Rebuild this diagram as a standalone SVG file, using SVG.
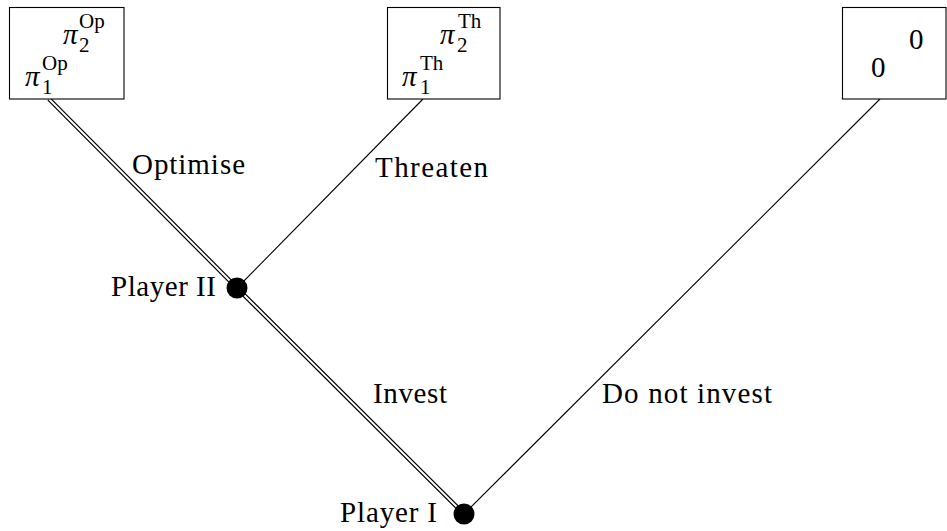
<svg xmlns="http://www.w3.org/2000/svg" width="947" height="531" viewBox="0 0 947 531" font-family="'Liberation Serif','DejaVu Serif',serif">
<style>
text,tspan{font-family:"Liberation Serif","DejaVu Serif","Times New Roman",serif;fill:#000}
.lbl{font-family:"Liberation Serif","DejaVu Serif",serif;font-size:29px}
.pi{font-family:"Liberation Serif","DejaVu Serif",serif;font-size:29px;font-style:italic}
.sc{font-family:"Liberation Serif","DejaVu Serif",serif;font-size:21px;font-style:normal}
.box{fill:#fff;stroke:#000;stroke-width:1.1}
.edge{stroke:#000;stroke-width:1.1;fill:none}
.dblo{stroke:#000;stroke-width:4.4;fill:none}
.dbli{stroke:#fff;stroke-width:2;fill:none}
.dot{fill:#000}
</style>
<rect width="947" height="531" fill="#fff"/>
<g id="connectors">
  <line class="edge" x1="237" y1="288" x2="423" y2="99"/>
  <line class="edge" x1="464" y1="514" x2="880" y2="99"/>
  <path class="dblo" d="M464 514 L237 288 L49 99"/>
  <path class="dbli" d="M464 514 L237 288 L49 99"/>
</g>
<g id="payoff-optimise">
  <rect class="box" x="9.5" y="7.5" width="114.5" height="91.5"/>
  <text x="63" y="44"><tspan class="pi">π</tspan></text>
  <text x="79" y="28"><tspan class="sc">Op</tspan></text>
  <text x="79" y="52"><tspan class="sc">2</tspan></text>
  <text x="25" y="86"><tspan class="pi">π</tspan></text>
  <text x="42" y="70"><tspan class="sc">Op</tspan></text>
  <text x="42" y="94"><tspan class="sc">1</tspan></text>
</g>
<g id="payoff-threaten">
  <rect class="box" x="387.5" y="7.5" width="112.5" height="91.5"/>
  <text x="440" y="44"><tspan class="pi">π</tspan></text>
  <text x="458" y="28"><tspan class="sc">Th</tspan></text>
  <text x="457" y="52"><tspan class="sc">2</tspan></text>
  <text x="402" y="86"><tspan class="pi">π</tspan></text>
  <text x="420" y="70"><tspan class="sc">Th</tspan></text>
  <text x="420" y="94"><tspan class="sc">1</tspan></text>
</g>
<g id="payoff-noinvest">
  <rect class="box" x="842.5" y="7.5" width="103.5" height="91.5"/>
  <text x="909" y="49"><tspan class="lbl">0</tspan></text>
  <text x="871" y="77"><tspan class="lbl">0</tspan></text>
</g>
<g id="player2">
  <circle class="dot" cx="237" cy="288" r="10.5"/>
  <text x="111" y="296"><tspan class="lbl" textLength="105">Player II</tspan></text>
</g>
<g id="player1">
  <circle class="dot" cx="464" cy="514" r="10.5"/>
  <text x="340" y="522"><tspan class="lbl" textLength="97">Player I</tspan></text>
</g>
<g id="edge-labels">
  <text x="132" y="174"><tspan class="lbl" textLength="113">Optimise</tspan></text>
  <text x="375" y="177"><tspan class="lbl" textLength="113">Threaten</tspan></text>
  <text x="373" y="403"><tspan class="lbl" textLength="74">Invest</tspan></text>
  <text x="602" y="403"><tspan class="lbl" textLength="170">Do not invest</tspan></text>
</g>
</svg>
